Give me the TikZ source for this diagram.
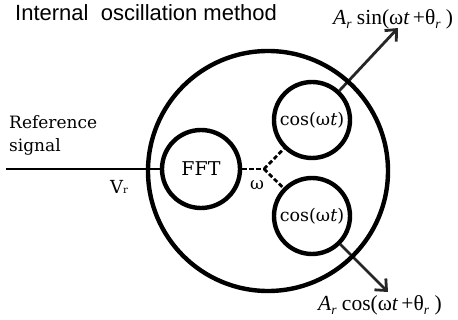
\documentclass[tikz,border=0pt]{standalone}
\usepackage{fontspec}
\setmainfont{Liberation Serif}
\newfontfamily\headfont{Liberation Sans}
\newfontfamily\unitfont{DejaVu Serif}
\usetikzlibrary{arrows.meta}
\pgfdeclarelayer{edgelayer}
\pgfdeclarelayer{nodelayer}
\pgfsetlayers{edgelayer,nodelayer,main}
\tikzstyle{none}=[inner sep=0pt]
\tikzstyle{outer}=[circle, draw=black, line width=4.4pt, minimum size=240pt, inner sep=0pt]
\tikzstyle{unit}=[circle, fill=white, draw=black, line width=4.4pt, minimum size=76pt, inner sep=0pt, font=\unitfont\fontsize{17.5}{18}\selectfont]
\tikzstyle{signal}=[draw=black, line width=2pt]
\tikzstyle{freq}=[draw=black, line width=2.8pt, dash pattern=on 4.5pt off 2.5pt]
\tikzstyle{output}=[draw=black!85, line width=2.8pt, -{Straight Barb[length=9pt,width=16pt]}]
\newcommand{\lowr}{\raisebox{-0.35ex}{\fontsize{13.5}{13.5}\selectfont\itshape r}}

\begin{document}
\begin{tikzpicture}[x=1pt, y=-1pt]
				\useasboundingbox (0,0) rectangle (458,320);
				\begin{pgfonlayer}{nodelayer}
					\node [style=outer] (0) at (268, 171) {};
					\node [style=unit, minimum size=78pt, font=\unitfont\fontsize{19}{20}\selectfont] (1) at (201, 169) {FFT};
					\node [style=unit] (2) at (312, 120) {cos(ω\textit{t})};
					\node [style=unit] (3) at (312, 216) {cos(ω\textit{t})};
					\coordinate (4) at (6, 169);
					\coordinate (5) at (264, 169);
					\coordinate (6) at (398, 28);
					\coordinate (7) at (388, 292);
					\node [style=none, anchor=base west, font=\headfont\fontsize{22}{24}\selectfont] (8) at (15, 21) {Internal\ \ oscillation method};
					\node [style=none, anchor=north west, align=left, font=\unitfont\fontsize{17}{23}\selectfont] (9) at (9, 115) {Reference\\signal};
					\node [style=none, anchor=base, font=\unitfont\fontsize{18}{18}\selectfont] (10) at (119, 194) {V\raisebox{0ex}{\fontsize{10}{10}\selectfont r}};
					\node [style=none, font=\unitfont\fontsize{17}{18}\selectfont] (11) at (257, 185) {ω};
					\node [style=none, anchor=base west, font=\fontsize{21.5}{22}\selectfont] (12) at (333, 25) {{\itshape A}\lowr\ sin(ω{\itshape t}\,+θ\lowr\ )};
					\node [style=none, anchor=base west, font=\fontsize{21.5}{22}\selectfont] (13) at (318, 311) {{\itshape A}\lowr\ cos(ω{\itshape t}\,+θ\lowr\ )};
				\end{pgfonlayer}
				\begin{pgfonlayer}{edgelayer}
					\draw [style=signal] (4) to (1);
					\draw [style=freq] (1) to (5);
					\draw [style=freq] (5) to (2);
					\draw [style=freq] (5) to (3);
					\draw [style=output] (2) to (6);
					\draw [style=output] (3) to (7);
				\end{pgfonlayer}
			\end{tikzpicture}
\end{document}
